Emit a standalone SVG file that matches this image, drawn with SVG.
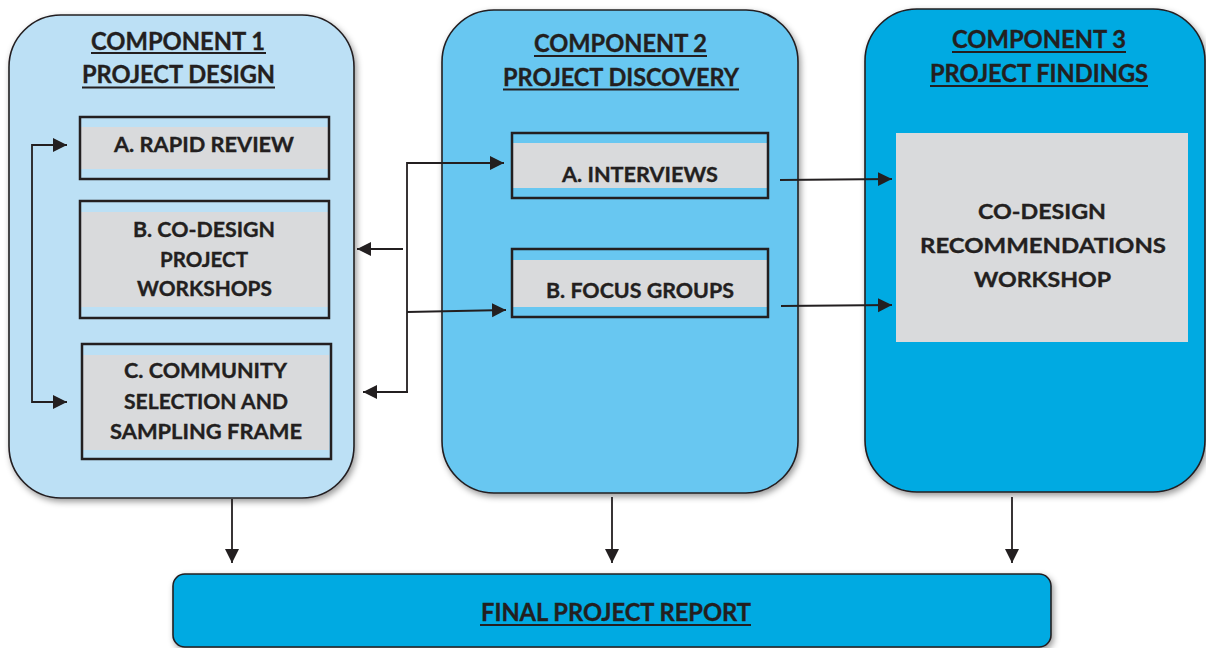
<svg xmlns="http://www.w3.org/2000/svg" width="1206" height="648" viewBox="0 0 1206 648">
  <defs>
    <filter id="shadow" x="-10%" y="-10%" width="120%" height="120%">
      <feDropShadow dx="2" dy="3" stdDeviation="3" flood-color="#000" flood-opacity="0.4"/>
    </filter>
    <marker id="arrow" markerUnits="userSpaceOnUse" markerWidth="15" markerHeight="15" refX="14" refY="7" orient="auto-start-reverse">
      <path d="M0,0 L14,7 L0,14 z" fill="#231f20"/>
    </marker>
  </defs>
  <style>
    .panel { stroke: #231f20; stroke-width: 1.6; filter: url(#shadow); }
    .p1 { fill: #bce0f5; }
    .p2 { fill: #67c7f1; }
    .p3 { fill: #00aae2; }
    .frame { fill: none; stroke: #231f20; stroke-width: 2.5; }
    .grey { fill: #d9dadc; }
    .t { font-family: Lato, "Open Sans", "Liberation Sans", sans-serif; font-weight: 700; fill: #231f20; stroke: #231f20; stroke-width: 0.35; text-anchor: middle; }
    .h { font-size: 24px; }
    .b { font-size: 21px; }
    .ul { stroke: #231f20; stroke-width: 2; }
    .link { fill: none; stroke: #231f20; stroke-width: 1.8; }
  </style>

  <!-- Component 1: project design -->
  <g id="component1">
    <rect class="panel p1" x="9" y="15" width="345" height="483" rx="52"/>
    <text class="t h" x="178" y="50" textLength="174" lengthAdjust="spacingAndGlyphs">COMPONENT 1</text>
    <line class="ul" x1="91" y1="53" x2="266" y2="53"/>
    <text class="t h" x="178.5" y="83" textLength="193" lengthAdjust="spacingAndGlyphs">PROJECT DESIGN</text>
    <line class="ul" x1="82" y1="87.5" x2="275" y2="87.5"/>
  </g>

  <g id="rapid-review">
    <rect class="grey" x="81" y="127" width="247" height="42"/>
    <rect class="frame" x="80" y="117" width="249" height="62"/>
    <text class="t b" x="204" y="152" textLength="180" lengthAdjust="spacingAndGlyphs">A. RAPID REVIEW</text>
  </g>

  <g id="codesign-workshops">
    <rect class="grey" x="81" y="212" width="247" height="95"/>
    <rect class="frame" x="80" y="201" width="249" height="117"/>
    <text class="t b" x="204" y="237" textLength="142" lengthAdjust="spacingAndGlyphs">B. CO-DESIGN</text>
    <text class="t b" x="204" y="267" textLength="88" lengthAdjust="spacingAndGlyphs">PROJECT</text>
    <text class="t b" x="204.5" y="296" textLength="135" lengthAdjust="spacingAndGlyphs">WORKSHOPS</text>
  </g>

  <g id="community-selection">
    <rect class="grey" x="83" y="355" width="246" height="95"/>
    <rect class="frame" x="82" y="344" width="249" height="115"/>
    <text class="t b" x="205.5" y="378" textLength="163" lengthAdjust="spacingAndGlyphs">C. COMMUNITY</text>
    <text class="t b" x="206" y="409" textLength="164" lengthAdjust="spacingAndGlyphs">SELECTION AND</text>
    <text class="t b" x="206" y="439" textLength="192" lengthAdjust="spacingAndGlyphs">SAMPLING FRAME</text>
  </g>

  <!-- Component 2: project discovery -->
  <g id="component2">
    <rect class="panel p2" x="442" y="10" width="356" height="483" rx="52"/>
    <text class="t h" x="620.5" y="52" textLength="173" lengthAdjust="spacingAndGlyphs">COMPONENT 2</text>
    <line class="ul" x1="534" y1="56" x2="707" y2="56"/>
    <text class="t h" x="621" y="86" textLength="236" lengthAdjust="spacingAndGlyphs">PROJECT DISCOVERY</text>
    <line class="ul" x1="503" y1="89.5" x2="739" y2="89.5"/>
  </g>

  <g id="interviews">
    <rect class="grey" x="513" y="143" width="254" height="45"/>
    <rect class="frame" x="512" y="133" width="256" height="65"/>
    <text class="t b" x="640" y="182" textLength="156" lengthAdjust="spacingAndGlyphs">A. INTERVIEWS</text>
  </g>

  <g id="focus-groups">
    <rect class="grey" x="513" y="260" width="254" height="47"/>
    <rect class="frame" x="512" y="249" width="256" height="68"/>
    <text class="t b" x="640" y="298" textLength="188" lengthAdjust="spacingAndGlyphs">B. FOCUS GROUPS</text>
  </g>

  <!-- Component 3: project findings -->
  <g id="component3">
    <rect class="panel p3" x="865" y="9" width="340" height="483" rx="52"/>
    <text class="t h" x="1039" y="48" textLength="174" lengthAdjust="spacingAndGlyphs">COMPONENT 3</text>
    <line class="ul" x1="952" y1="52" x2="1126" y2="52"/>
    <text class="t h" x="1039" y="82" textLength="218" lengthAdjust="spacingAndGlyphs">PROJECT FINDINGS</text>
    <line class="ul" x1="930" y1="86" x2="1148" y2="86"/>
  </g>

  <g id="recommendations-workshop">
    <rect class="grey" x="896" y="133" width="292" height="209"/>
    <text class="t b" x="1042" y="219" font-size="22" textLength="128" lengthAdjust="spacingAndGlyphs">CO-DESIGN</text>
    <text class="t b" x="1043" y="253" font-size="22" textLength="246" lengthAdjust="spacingAndGlyphs">RECOMMENDATIONS</text>
    <text class="t b" x="1042.5" y="287" font-size="22" textLength="137" lengthAdjust="spacingAndGlyphs">WORKSHOP</text>
  </g>

  <!-- Final report -->
  <g id="final-report">
    <rect class="panel p3" x="173" y="574" width="878" height="73" rx="12"/>
    <text class="t h" x="616" y="621" textLength="270" lengthAdjust="spacingAndGlyphs">FINAL PROJECT REPORT</text>
    <line class="ul" x1="480" y1="625" x2="751" y2="625"/>
  </g>

  <!-- Connectors -->
  <g id="connectors">
    <!-- loop inside component 1, arrowheads at both ends -->
    <path class="link" d="M67,145 L32,145 L32,402 L67,402" marker-start="url(#arrow)" marker-end="url(#arrow)"/>
    <!-- branch between components 1 and 2 -->
    <path class="link" d="M407,392 L407,163 L504,163" marker-end="url(#arrow)"/>
    <path class="link" d="M407,312 L506,310" marker-end="url(#arrow)"/>
    <path class="link" d="M403,249 L357,249" marker-end="url(#arrow)"/>
    <path class="link" d="M408,392 L363,392" marker-end="url(#arrow)"/>
    <!-- discovery to findings -->
    <path class="link" d="M780,180 L892,179" marker-end="url(#arrow)"/>
    <path class="link" d="M781,306 L892,305" marker-end="url(#arrow)"/>
    <!-- components to final report -->
    <path class="link" d="M232,499 L232,563" marker-end="url(#arrow)"/>
    <path class="link" d="M612,497 L612,563" marker-end="url(#arrow)"/>
    <path class="link" d="M1012,497 L1012,563" marker-end="url(#arrow)"/>
  </g>
</svg>
